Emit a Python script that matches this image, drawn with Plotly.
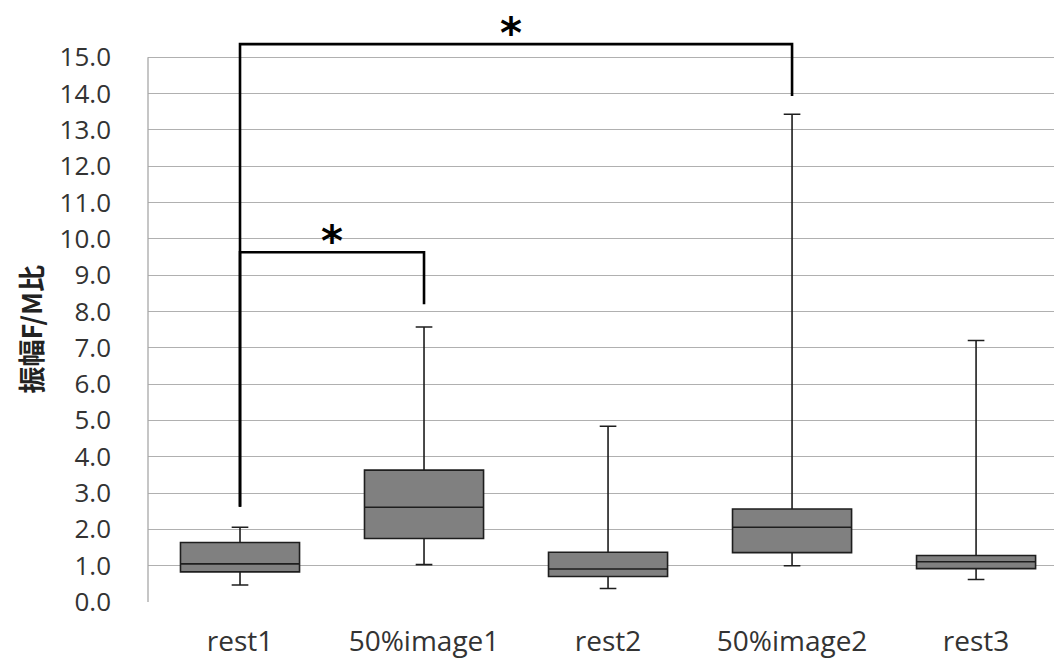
import plotly.graph_objects as go

categories = ["rest1", "50%image1", "rest2", "50%image2", "rest3"]
lower_whisker = [0.47, 1.03, 0.37, 1.00, 0.62]
q1_values = [0.83, 1.75, 0.70, 1.36, 0.92]
median_values = [1.05, 2.61, 0.91, 2.06, 1.11]
q3_values = [1.64, 3.63, 1.37, 2.56, 1.28]
upper_whisker = [2.06, 7.57, 4.84, 13.43, 7.20]

y_ticks = [i * 1.0 for i in range(16)]
y_max_tick = 15.0
y_title = "振幅F/M比"

# significance brackets: (left category, right category), top, left foot, right foot
bracket_pairs = [("rest1", "50%image2"), ("rest1", "50%image1")]
bracket_top = [15.36, 9.63]
bracket_left_foot = [2.62, 2.62]
bracket_right_foot = [13.93, 8.20]
star_label = "*"

fig = go.Figure()

fig.add_trace(go.Box(
    x=categories,
    q1=q1_values,
    median=median_values,
    q3=q3_values,
    lowerfence=lower_whisker,
    upperfence=upper_whisker,
    fillcolor="#808080",
    line=dict(color="#1e1e1e", width=1.6),
    whiskerwidth=0.14,
    width=0.647,
    boxpoints=False,
    hoverinfo="skip",
    showlegend=False,
))

for k, ((a, b), top, lf, rf) in enumerate(zip(bracket_pairs, bracket_top, bracket_left_foot, bracket_right_foot)):
    fig.add_trace(go.Scatter(
        x=[a, a, b, b],
        y=[lf, top, top, rf],
        mode="lines",
        line=dict(color="black", width=2.6),
        showlegend=False,
        hoverinfo="skip",
    ))
    ia, ib = categories.index(a), categories.index(b)
    fig.add_annotation(
        x=(ia + ib) / 2, y=top, xref="x", yref="y",
        text=star_label, showarrow=False,
        font=dict(size=42, color="black", family="DejaVu Sans", weight="bold"),
        yanchor="middle", yshift=11, xshift=-5 if k == 0 else 0,
    )

# left axis border only up to the top tick
fig.add_shape(type="line", xref="paper", yref="y", x0=0, x1=0, y0=0, y1=y_max_tick,
              line=dict(color="#a8a8a8", width=1.3), layer="above")

# y-axis title
fig.add_annotation(
    text=f"<b>{y_title}</b>", xref="paper", yref="y", x=0, y=7.5,
    xanchor="center", yanchor="middle", xshift=-117, textangle=-90,
    showarrow=False, font=dict(size=27, color="#222222", family="Noto Sans CJK JP"),
)

fig.update_layout(
    width=1054, height=654,
    margin=dict(l=140, r=0, t=31, b=60),
    plot_bgcolor="white",
    paper_bgcolor="white",
    font=dict(family="'Open Sans', 'Noto Sans CJK JP'", color="#333333"),
)

fig.update_xaxes(
    type="category",
    range=[-0.5, 4.467],
    showgrid=False,
    showline=False,
    ticks="",
    tickfont=dict(size=28, color="#333333", family="Open Sans"),
    ticklabelstandoff=20,
    zeroline=False,
    automargin=False,
)

fig.update_yaxes(
    range=[0, 15.5],
    tickvals=y_ticks,
    ticktext=[f"{v:.1f}" for v in y_ticks],
    showgrid=True,
    gridcolor="#b0b0b0",
    gridwidth=1.3,
    showline=False,
    zeroline=False,
    ticks="",
    tickfont=dict(size=26, color="#333333", family="Open Sans"),
    ticklabelstandoff=36,
    automargin=False,
)

fig.write_html("out.html")
